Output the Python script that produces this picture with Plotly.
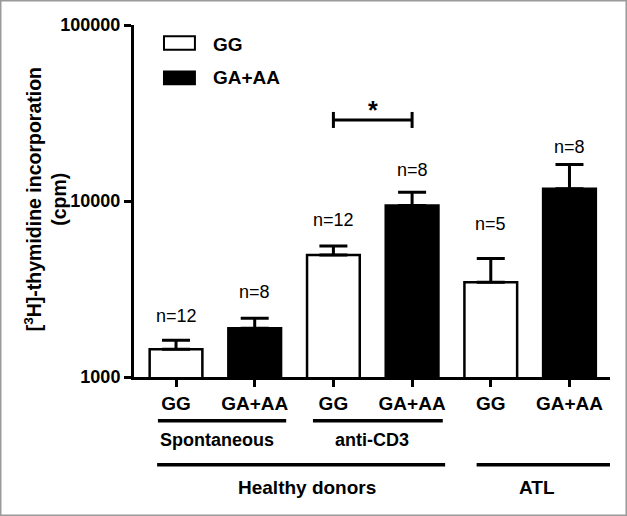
import math
import plotly.graph_objects as go

# ---- data ----
categories = ["GG", "GA+AA", "GG", "GA+AA", "GG", "GA+AA"]
groups = ["GG", "GA+AA"]
gg_pos = [0, 2, 4]
ga_pos = [1, 3, 5]
gg_mean = [1440, 4930, 3450]
gg_err = [180, 620, 1270]
ga_mean = [1890, 9430, 11730]
ga_err = [270, 1780, 4370]
n_labels = ["n=12", "n=8", "n=12", "n=8", "n=5", "n=8"]
y_ticks = [1000, 10000, 100000]
y_ticktext = ["1000", "10000", "100000"]
sub_groups = ["Spontaneous", "anti-CD3"]
main_groups = ["Healthy donors", "ATL"]

FONT = "Liberation Sans, Arial, sans-serif"

fig = go.Figure()
fig.add_trace(go.Bar(
    x=gg_pos, y=gg_mean, width=0.67, name=groups[0],
    marker=dict(color="white", line=dict(color="black", width=2.5)),
    error_y=dict(type="data", array=gg_err, arrayminus=[0, 0, 0], symmetric=False,
                 thickness=3, width=14, color="black"),
    showlegend=False,
))
fig.add_trace(go.Bar(
    x=ga_pos, y=ga_mean, width=0.67, name=groups[1],
    marker=dict(color="black", line=dict(color="black", width=2.5)),
    error_y=dict(type="data", array=ga_err, arrayminus=[0, 0, 0], symmetric=False,
                 thickness=3, width=14, color="black"),
    showlegend=False,
))

annotations = []
shapes = []

# n labels above error caps (annotation y on log axis is log10)
all_pos = gg_pos + ga_pos
all_top = [m + e for m, e in zip(gg_mean, gg_err)] + [m + e for m, e in zip(ga_mean, ga_err)]
order = sorted(range(6), key=lambda i: all_pos[i])
shifts = [24, 26, 26, 22, 34, 18]
for k, i in enumerate(order):
    annotations.append(dict(x=all_pos[i], y=math.log10(all_top[i]), xref="x", yref="y",
                            text=n_labels[k], showarrow=False, yshift=shifts[k],
                            xanchor="center", yanchor="middle",
                            font=dict(family=FONT, size=18, color="black")))

# significance bracket between anti-CD3 GG and GA+AA
sig_y = 28840
shapes.append(dict(type="line", xref="x", yref="y", x0=2, x1=3, y0=sig_y, y1=sig_y,
                   line=dict(color="black", width=3)))
for xx in (2, 3):
    shapes.append(dict(type="line", xref="x", yref="y", x0=xx, x1=xx, y0=26000, y1=32060,
                       line=dict(color="black", width=3)))
annotations.append(dict(x=2.5, y=math.log10(sig_y), xref="x", yref="y", text="<b>*</b>",
                        showarrow=False, yshift=10, xanchor="center", yanchor="middle",
                        font=dict(family=FONT, size=25, color="black")))

# group lines and labels below axis
sub_spans = [(-0.23, 1.40), (1.74, 3.39)]
sub_centers = [0.52, 2.49]
for (a, b), c, t in zip(sub_spans, sub_centers, sub_groups):
    shapes.append(dict(type="line", xref="x", yref="paper", x0=a, x1=b, y0=-0.124, y1=-0.124,
                       line=dict(color="black", width=3.5)))
    annotations.append(dict(x=c, y=-0.179, xref="x", yref="paper", text="<b>" + t + "</b>",
                            showarrow=False, xanchor="center", yanchor="middle",
                            font=dict(family=FONT, size=18, color="black")))
main_spans = [(-0.24, 3.42), (3.82, 5.54)]
main_centers = [1.66, 4.59]
for (a, b), c, t in zip(main_spans, main_centers, main_groups):
    shapes.append(dict(type="line", xref="x", yref="paper", x0=a, x1=b, y0=-0.249, y1=-0.249,
                       line=dict(color="black", width=3.5)))
    annotations.append(dict(x=c, y=-0.3125, xref="x", yref="paper", text="<b>" + t + "</b>",
                            showarrow=False, xanchor="center", yanchor="middle",
                            font=dict(family=FONT, size=19, color="black")))

# custom legend
shapes.append(dict(type="rect", xref="paper", yref="paper", x0=0.063, x1=0.128, y0=0.93, y1=0.968,
                   line=dict(color="black", width=2), fillcolor="white"))
shapes.append(dict(type="rect", xref="paper", yref="paper", x0=0.063, x1=0.128, y0=0.832, y1=0.868,
                   line=dict(color="black", width=2), fillcolor="black"))
annotations.append(dict(x=0.162, y=0.946, xref="paper", yref="paper", xanchor="left",
                        yanchor="middle", text="<b>" + groups[0] + "</b>", showarrow=False,
                        font=dict(family=FONT, size=19, color="black")))
annotations.append(dict(x=0.162, y=0.85, xref="paper", yref="paper", xanchor="left",
                        yanchor="middle", text="<b>" + groups[1] + "</b>", showarrow=False,
                        font=dict(family=FONT, size=19, color="black")))

# y-axis title
annotations.append(dict(x=-0.186, y=0.506, xref="paper", yref="paper", textangle=-90,
                        xanchor="center", yanchor="middle",
                        text="<b>[<sup>3</sup>H]-thymidine incorporation<br>(cpm)</b>",
                        showarrow=False, font=dict(family=FONT, size=19.5, color="black")))

# figure border
shapes.append(dict(type="rect", xref="paper", yref="paper", x0=-0.2805, x1=1.0346,
                   y0=-0.3935, y1=1.0696, line=dict(color="#9a9a9a", width=2)))

fig.update_layout(
    width=627, height=516,
    margin=dict(l=134, r=17, t=25, b=139),
    plot_bgcolor="white", paper_bgcolor="white",
    barmode="overlay",
    font=dict(family=FONT, color="black"),
    annotations=annotations, shapes=shapes,
    xaxis=dict(range=[-0.534, 5.515], tickvals=list(range(6)),
               ticktext=["<b>" + c + "</b>" for c in categories],
               tickfont=dict(family=FONT, size=19, color="black"),
               showline=True, linecolor="black", linewidth=3,
               ticks="outside", ticklen=7, tickwidth=3, tickcolor="black",
               showgrid=False, zeroline=False, fixedrange=True),
    yaxis=dict(type="log", range=[3, 5], tickvals=y_ticks,
               ticktext=["<b>" + t + "</b>" for t in y_ticktext],
               tickfont=dict(family=FONT, size=18, color="black"),
               showline=True, linecolor="black", linewidth=3,
               ticks="outside", ticklen=7, tickwidth=3, tickcolor="black",
               showgrid=False, zeroline=False, fixedrange=True),
)

fig.write_html("out.html", config={"displayModeBar": False},
               post_script="document.body.style.margin='0';")
